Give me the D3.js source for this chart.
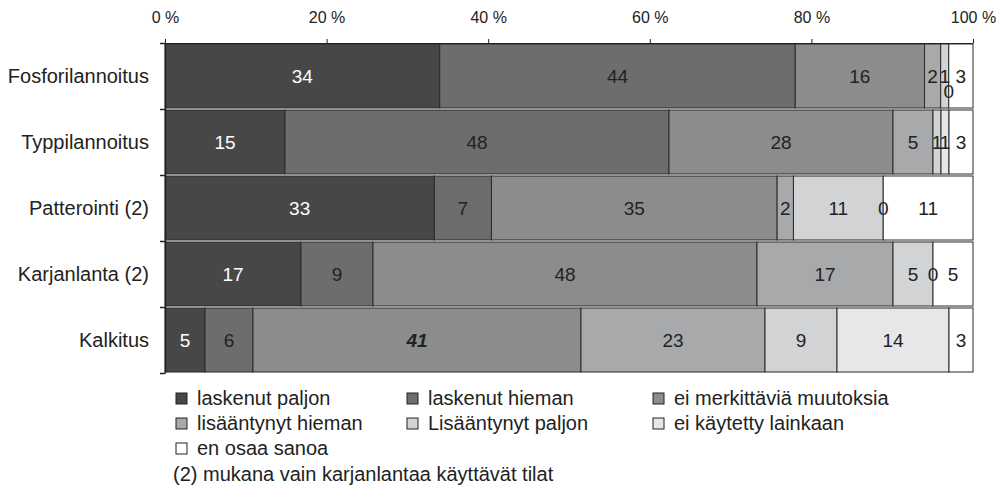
<!DOCTYPE html>
<html>
<head>
<meta charset="utf-8">
<script src="https://cdn.jsdelivr.net/npm/d3@7"></script>
<style>
  body { margin: 0; background: #fff; }
  svg { font-family: "Liberation Sans", Arial, sans-serif; }
</style>
</head>
<body>
<svg id="chart" width="996" height="488"></svg>
<script>
var categories = ["Fosforilannoitus", "Typpilannoitus", "Patterointi (2)", "Karjanlanta (2)", "Kalkitus"];
var seriesNames = ["laskenut paljon", "laskenut hieman", "ei merkittäviä muutoksia",
    "lisääntynyt hieman", "Lisääntynyt paljon", "ei käytetty lainkaan", "en osaa sanoa"];

// values per series, in category order
var laskenutPaljon    = [34, 15, 33, 17, 5];
var laskenutHieman    = [44, 48, 7, 9, 6];
var eiMerkittavia     = [16, 28, 35, 48, 41];
var lisaantynytHieman = [2, 5, 2, 17, 23];
var lisaantynytPaljon = [1, 1, 11, 5, 9];
var eiKaytetty        = [0, 1, 0, 0, 14];
var enOsaa            = [3, 3, 11, 5, 3];

var xTicks = [0, 20, 40, 60, 80, 100];
var note = "(2) mukana vain karjanlantaa käyttävät tilat";
// label drawn bold italic in the original
var boldLabels = [{ series: "ei merkittäviä muutoksia", cat: "Kalkitus" }];

var colors = ["#474747", "#6d6d6d", "#8c8c8c", "#a8a9ab", "#d2d3d5", "#e6e7e8", "#ffffff"];
var allValues = [laskenutPaljon, laskenutHieman, eiMerkittavia, lisaantynytHieman,
    lisaantynytPaljon, eiKaytetty, enOsaa];

var rows = categories.map(function (c, i) {
    var r = { cat: c };
    seriesNames.forEach(function (s, k) { r[s] = allValues[k][i]; });
    return r;
});

var stack = d3.stack().keys(seriesNames).offset(d3.stackOffsetExpand);
var layers = stack(rows);

var svg = d3.select("#chart");

var x = d3.scaleLinear().domain([0, 1]).range([165, 973]);
var y = d3.scaleBand().domain(categories).range([43, 373])
    .paddingInner(0.03).paddingOuter(0.015);
var color = d3.scaleOrdinal().domain(seriesNames).range(colors);

// bars
var g = svg.append("g");
layers.forEach(function (layer) {
    g.selectAll(null)
        .data(layer)
        .enter().append("rect")
        .attr("x", function (d) { return x(d[0]); })
        .attr("y", function (d) { return y(d.data.cat); })
        .attr("width", function (d) { return x(d[1]) - x(d[0]); })
        .attr("height", y.bandwidth())
        .style("fill", color(layer.key))
        .style("stroke", "#2a2a2a")
        .style("stroke-width", 1);
});

// labels, nudge down when overlapping the previous one
categories.forEach(function (cat, i) {
    var prevX = -100;
    layers.forEach(function (layer, k) {
        var d = layer[i];
        var cx = x((d[0] + d[1]) / 2);
        var dy = 0;
        if (cx - prevX < 6) dy = 15;
        prevX = cx;
        var bold = boldLabels.some(function (b) { return b.series === layer.key && b.cat === cat; });
        svg.append("text")
            .attr("x", cx)
            .attr("y", y(cat) + y.bandwidth() / 2 + dy)
            .attr("dy", "0.35em")
            .attr("text-anchor", "middle")
            .style("font-size", "19px")
            .style("font-weight", bold ? "bold" : "normal")
            .style("font-style", bold ? "italic" : "normal")
            .style("fill", k === 0 ? "#ffffff" : "#222")
            .text(d.data[layer.key]);
    });
});

// top axis
var xAxis = d3.axisTop(x)
    .tickValues(xTicks.map(function (t) { return t / 100; }))
    .tickFormat(function (d) { return Math.round(d * 100) + " %"; })
    .tickSize(4).tickSizeOuter(0).tickPadding(16);
var ax = svg.append("g").attr("transform", "translate(0,43)").call(xAxis);
ax.selectAll("text").style("font-size", "16px").style("fill", "#222")
    .style("font-family", "'Liberation Sans', Arial, sans-serif");
ax.selectAll("line, path").style("stroke", "#222");

// left axis with ticks between categories
var yEdge = d3.scaleLinear().domain([0, categories.length]).range([43, 373]);
var yAxis = d3.axisLeft(yEdge).ticks(categories.length).tickFormat("").tickSize(5).tickSizeOuter(0);
var ay = svg.append("g").attr("transform", "translate(165,0)").call(yAxis);
ay.selectAll("line, path").style("stroke", "#222").style("stroke-width", 1.5);

svg.selectAll(null)
    .data(categories)
    .enter().append("text")
    .attr("x", 149)
    .attr("y", function (d) { return y(d) + y.bandwidth() / 2; })
    .attr("dy", "0.35em")
    .attr("text-anchor", "end")
    .style("font-size", "20px")
    .style("fill", "#222")
    .text(function (d) { return d; });

// legend
var legCols = [176, 407, 653];
var legRows = [398, 423, 448];
var leg = svg.selectAll(null)
    .data(seriesNames)
    .enter().append("g")
    .attr("transform", function (d, i) {
        return "translate(" + legCols[i % 3] + "," + legRows[Math.floor(i / 3)] + ")";
    });
leg.append("rect")
    .attr("x", 0).attr("y", -5)
    .attr("width", 11).attr("height", 11)
    .style("fill", function (d) { return color(d); })
    .style("stroke", "#222");
leg.append("text")
    .attr("x", 21).attr("dy", "0.35em")
    .style("font-size", "20px")
    .style("fill", "#222")
    .text(function (d) { return d; });

svg.append("text")
    .attr("x", 173).attr("y", 474).attr("dy", "0.35em")
    .style("font-size", "20px")
    .style("fill", "#222")
    .text(note);
</script>
</body>
</html>
